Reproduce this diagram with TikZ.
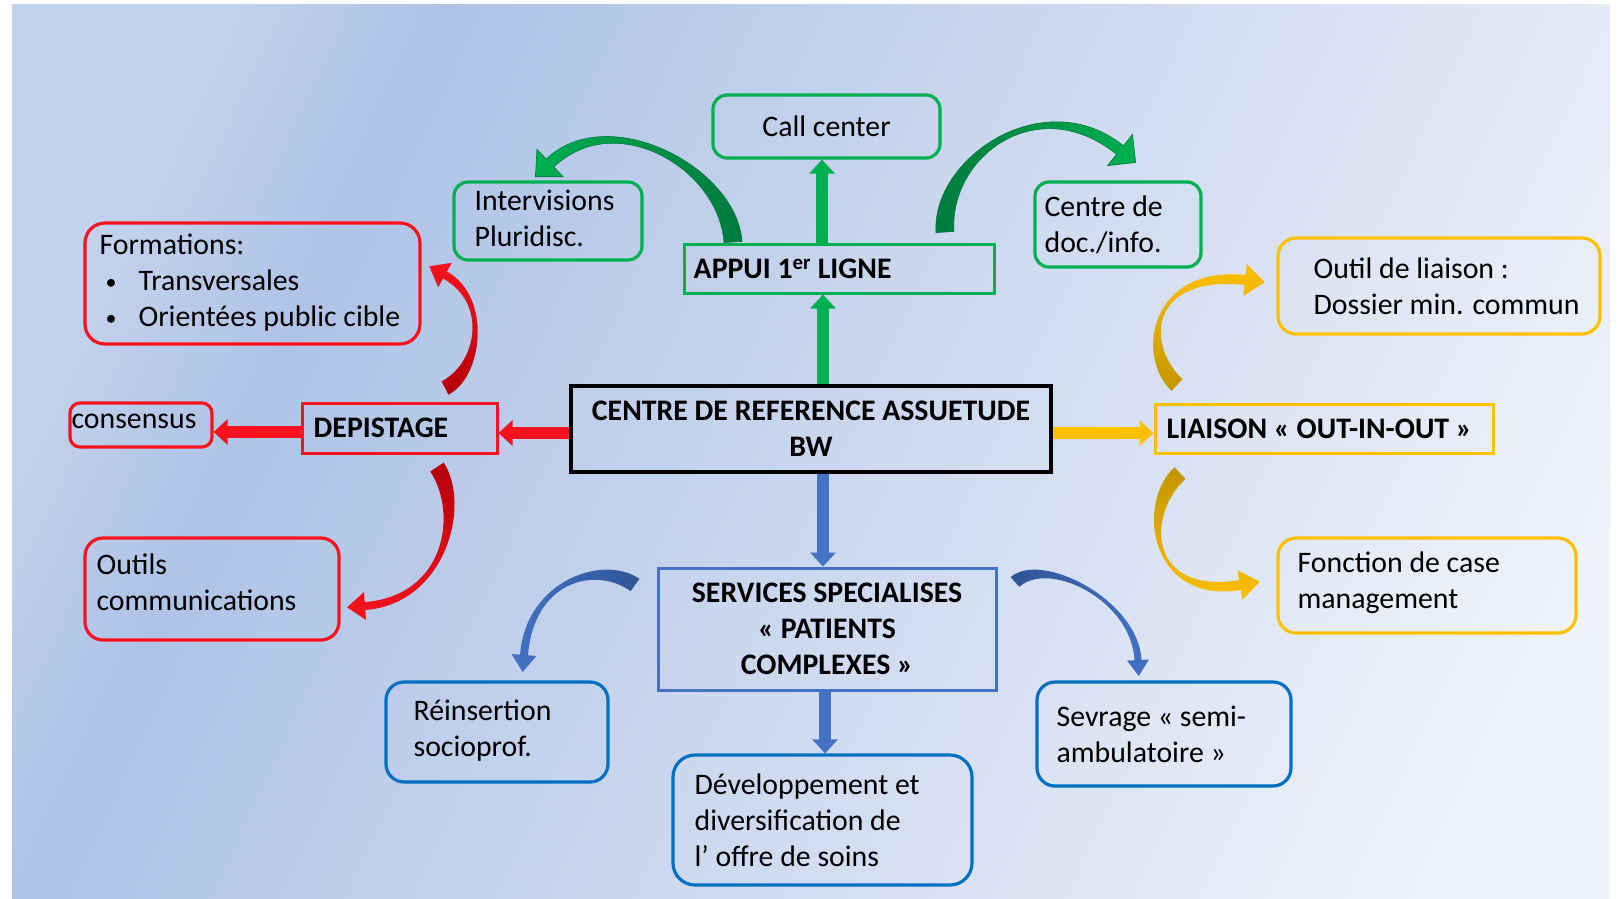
\documentclass[tikz,border=0pt]{standalone}
\usepackage{fontspec}
\setmainfont{Carlito}
\usetikzlibrary{arrows.meta,calc}
\definecolor{cgreen}{HTML}{00B050}
\definecolor{cgreendk}{HTML}{007A3D}
\definecolor{cred}{HTML}{F5141E}
\definecolor{creddk}{HTML}{B4000A}
\definecolor{cyel}{HTML}{FFC000}
\definecolor{cyeldk}{HTML}{C39600}
\definecolor{cblue}{HTML}{0070C0}
\definecolor{cserv}{HTML}{4472C4}
\definecolor{cbluedk}{HTML}{2F5597}
\definecolor{bgL}{HTML}{C2D1EC}
\definecolor{bgA}{HTML}{AFC3E6}
\definecolor{bgB}{HTML}{F0F3FA}
\pgfdeclarehorizontalshading{bgsh}{100bp}{color(0bp)=(bgL); color(24bp)=(bgL); color(31bp)=(bgA); color(78bp)=(bgB); color(100bp)=(bgB)}
% tapered curved arrow: #1 tail, #2 #3 controls, #4 neck, #5 half tail width,
% #6 half neck width, #7 half head width, #8 head length, #9 style
\newcommand\ribbonarrow[9]{%
  \coordinate (rA) at (#1);
  \coordinate (rB) at (#2);
  \coordinate (rC) at (#3);
  \coordinate (rD) at (#4);
  \coordinate (rAL) at ($(rA)!#5!90:(rB)$);
  \coordinate (rAR) at ($(rA)!#5!-90:(rB)$);
  \coordinate (rDL) at ($(rD)!#6!-90:(rC)$);
  \coordinate (rDR) at ($(rD)!#6!90:(rC)$);
  \coordinate (rBL) at ($(rB)+(rAL)-(rA)$);
  \coordinate (rBR) at ($(rB)+(rAR)-(rA)$);
  \coordinate (rCL) at ($(rC)+(rDL)-(rD)$);
  \coordinate (rCR) at ($(rC)+(rDR)-(rD)$);
  \coordinate (rHL) at ($(rD)!#7!-90:(rC)$);
  \coordinate (rHR) at ($(rD)!#7!90:(rC)$);
  \coordinate (rT) at ($(rD)!-#8!(rC)$);
  \path[#9] (rAL) .. controls (rBL) and (rCL) .. (rDL) -- (rHL) -- (rT) -- (rHR) -- (rDR) .. controls (rCR) and (rBR) .. (rAR) -- cycle;
}
\newcommand\smallbul{\hspace*{6pt}\makebox[33pt][l]{\raisebox{1pt}{\fontsize{22}{22}\selectfont\textbullet}}}
\begin{document}
\begin{tikzpicture}[x=1pt,y=-1pt,
  box/.style={draw, line width=3.2pt, rounded corners=14pt, inner sep=0pt},
  sq/.style={draw, line width=3pt, inner sep=0pt},
  txt/.style={inner sep=0pt, align=left, text=black, font=\fontsize{29.8}{36}\selectfont},
  btxt/.style={inner sep=0pt, align=left, text=black, font=\fontsize{29.8}{36}\selectfont\bfseries},
  barrow/.style={line width=12pt, -{Triangle[width=25pt,length=14pt]}},
]
\useasboundingbox (0,0) rectangle (1620,898);
\fill[white] (0,0) rectangle (1620,898);
\shade[shading=bgsh, shading angle=-25] (12,4) rectangle (1610,898);

% boxes
\node[box, draw=cgreen, minimum width=227pt, minimum height=63pt] (call) at (826.5,126.5) {};
\node[sq, draw=cgreen, minimum width=310pt, minimum height=49pt] (app) at (839,268.5) {};
\node[box, draw=cgreen, minimum width=188pt, minimum height=78pt] (inter) at (548,221) {};
\node[box, draw=cgreen, minimum width=166pt, minimum height=85pt] (cdoc) at (1118,224.5) {};
\node[box, draw=cred, rounded corners=20pt, minimum width=335pt, minimum height=121pt] (form) at (252.5,283.5) {};
\node[box, draw=cred, rounded corners=10pt, minimum width=142pt, minimum height=44pt] (cons) at (141,425) {};
\node[sq, draw=cred, minimum width=195pt, minimum height=50pt] (dep) at (399.5,428) {};
\node[draw=black, line width=4.6pt, inner sep=0pt, minimum width=480pt, minimum height=86pt] (cen) at (811,429) {};
\node[sq, draw=cyel, minimum width=338pt, minimum height=49pt] (lia) at (1324,428.5) {};
\node[box, draw=cyel, rounded corners=18pt, minimum width=322pt, minimum height=96pt] (outil) at (1439,286) {};
\node[box, draw=cyel, rounded corners=18pt, minimum width=298pt, minimum height=95pt] (fonc) at (1427,585.5) {};
\node[box, draw=cred, rounded corners=18pt, minimum width=254pt, minimum height=102pt] (ocomm) at (212,589) {};
\node[draw=cserv, line width=3pt, inner sep=0pt, minimum width=338pt, minimum height=122pt] (serv) at (827,629) {};
\node[box, draw=cblue, rounded corners=18pt, minimum width=222pt, minimum height=100pt] (reins) at (497,732) {};
\node[box, draw=cblue, rounded corners=22pt, minimum width=299pt, minimum height=130pt] (dev) at (822.5,820) {};
\node[box, draw=cblue, rounded corners=18pt, minimum width=254pt, minimum height=104pt] (sev) at (1164,734) {};

% texts
\node[txt, align=center] (call-t) at (call.center) {Call center};
\node[btxt, anchor=west] (app-t) at ($(app.west)+(11,0)$) {APPUI 1\textsuperscript{er} LIGNE};
\node[txt, anchor=west] (inter-t) at ($(inter.west)+(22,-3)$) {Intervisions\\Pluridisc.};
\node[txt, anchor=west] (cdoc-t) at ($(cdoc.west)+(11,0)$) {Centre de\\doc./info.};
\node[txt, anchor=west] (form-t) at ($(form.west)+(16,-1)$) {Formations:\\\smallbul Transversales\\\smallbul Orientées public cible};
\node[txt, anchor=west] (cons-t) at ($(cons.west)+(3,-4)$) {consensus};
\node[btxt, anchor=west] (dep-t) at ($(dep.west)+(13,0)$) {DEPISTAGE};
\node[btxt, align=center] (cen-t) at (cen.center) {CENTRE DE REFERENCE ASSUETUDE\\BW};
\node[btxt, anchor=west] (lia-t) at ($(lia.west)+(13,0)$) {LIAISON « OUT-IN-OUT »};
\node[txt, anchor=west] (outil-t) at ($(outil.west)+(37,0)$) {Outil de liaison :\\Dossier min. commun};
\node[txt, anchor=west] (fonc-t) at ($(fonc.west)+(21,-3)$) {Fonction de case\\management};
\node[txt, anchor=west] (ocomm-t) at ($(ocomm.west)+(13,-7)$) {Outils\\communications};
\node[btxt, align=center] (serv-t) at (serv.center) {SERVICES SPECIALISES\\« PATIENTS\\COMPLEXES »};
\node[txt, anchor=west] (reins-t) at ($(reins.west)+(29,-1)$) {Réinsertion\\socioprof.};
\node[txt, anchor=west] (dev-t) at ($(dev.west)+(23,0)$) {Développement et\\diversification de\\l’ offre de soins};
\node[txt, anchor=west] (sev-t) at ($(sev.west)+(21,0)$) {Sevrage « semi-\\ambulatoire »};

% straight arrows
\coordinate (gx) at (823,0);
\coordinate (gx2) at (822,0);
\coordinate (ry) at (0,433);
\coordinate (ry2) at (0,432);
\coordinate (bx) at (823,0);
\coordinate (bx2) at (825,0);
\draw[barrow, cgreen] (gx |- cen.north) -- (gx |- app.south);
\draw[barrow, cgreen] (gx2 |- app.north) -- (gx2 |- call.south);
\draw[barrow, cred] (cen.west |- ry) -- (dep.east |- ry);
\draw[barrow, cred] (dep.west |- ry2) -- (cons.east |- ry2);
\draw[barrow, cyel] (cen.east |- ry) -- (lia.west |- ry);
\draw[barrow, cserv] (bx |- cen.south) -- (bx |- serv.north);
\draw[barrow, cserv] (bx2 |- serv.south) -- (bx2 |- dev.north);

% curved arrows
\ribbonarrow{733,242}{728,168}{612,104}{550,163}{9pt}{5.5pt}{19pt}{20pt}{left color=cgreen, right color=cgreendk, draw=cgreendk, line width=0.6pt}
\ribbonarrow{945,232}{940,158}{1040,86}{1120,150}{9pt}{5.5pt}{20pt}{20pt}{left color=cgreendk, right color=cgreen, draw=cgreendk, line width=0.6pt}
\ribbonarrow{445,388}{480,370}{490,300}{445,275}{7.5pt}{4pt}{14pt}{18pt}{bottom color=creddk, top color=cred}
\ribbonarrow{437,467}{465,510}{445,600}{365,606}{8pt}{4pt}{14pt}{18pt}{top color=creddk, bottom color=cred}
\ribbonarrow{1177,385}{1140,350}{1150,270}{1245,280}{8pt}{5pt}{16pt}{20pt}{bottom color=cyeldk, top color=cyel}
\ribbonarrow{1180,473}{1140,510}{1150,600}{1240,585}{8pt}{5pt}{15pt}{20pt}{top color=cyeldk, bottom color=cyel}
\ribbonarrow{635,585}{600,560}{530,580}{524,655}{7.5pt}{4pt}{12.5pt}{17pt}{right color=cbluedk, left color=cserv}
\ribbonarrow{1015,582}{1045,555}{1135,600}{1138,660}{6.5pt}{3.5pt}{11pt}{16pt}{left color=cbluedk, right color=cserv}
\end{tikzpicture}
\end{document}
